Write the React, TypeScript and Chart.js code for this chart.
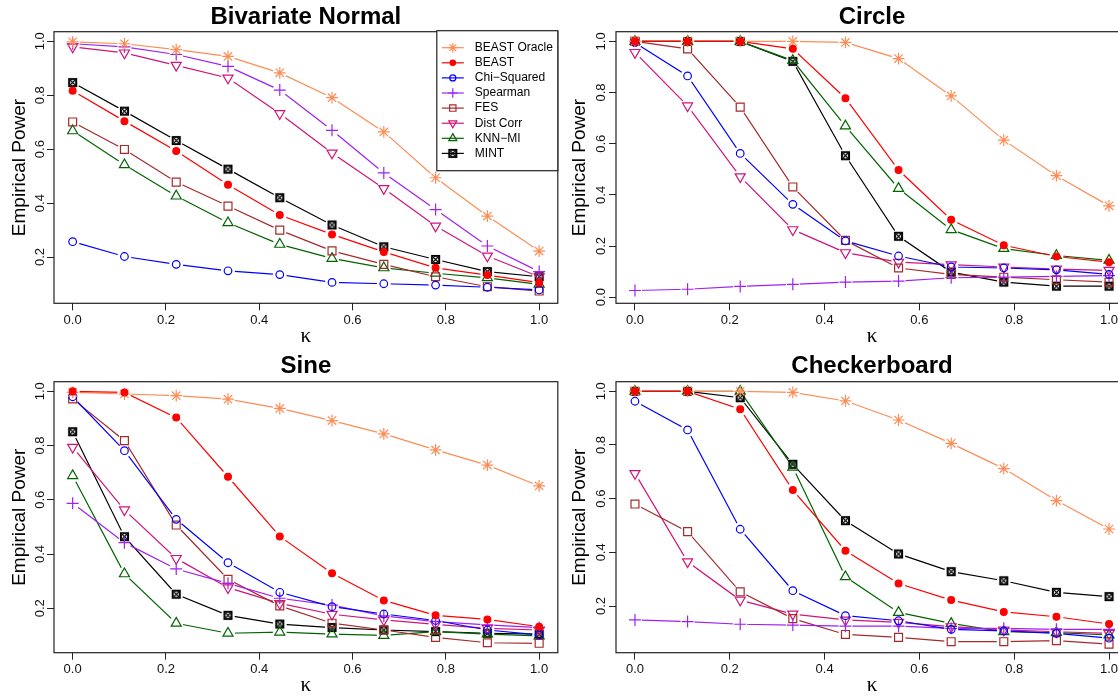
import React, { useEffect, useRef } from "react";
import { Chart, registerables } from "chart.js";

Chart.register(...registerables);

const SANS = "'Liberation Sans', Arial, Helvetica, sans-serif";
const SERIF = "'Liberation Serif', 'DejaVu Serif', serif";
Chart.defaults.font.family = SANS;

// ---------- data ----------
const KAPPA = [0, 0.111, 0.222, 0.333, 0.444, 0.556, 0.667, 0.778, 0.889, 1.0];
const X_TICKS = [0, 0.2, 0.4, 0.6, 0.8, 1.0];
const Y_TICKS_FROM_02 = [0.2, 0.4, 0.6, 0.8, 1.0];
const Y_TICKS_FROM_00 = [0, 0.2, 0.4, 0.6, 0.8, 1.0];

const METHODS = ["BEAST Oracle", "BEAST", "Chi\u2212Squared", "Spearman", "FES", "Dist Corr", "KNN\u2212MI", "MINT"];
const TITLES = ["Bivariate Normal", "Circle", "Sine", "Checkerboard"];

// Bivariate Normal
const BVN_ORACLE = [0.998, 0.991, 0.969, 0.944, 0.883, 0.791, 0.664, 0.494, 0.352, 0.222];
const BVN_BEAST = [0.817, 0.704, 0.593, 0.468, 0.356, 0.284, 0.219, 0.160, 0.133, 0.105];
const BVN_CHISQ = [0.257, 0.202, 0.173, 0.149, 0.135, 0.106, 0.101, 0.096, 0.088, 0.078];
const BVN_SPEARMAN = [0.991, 0.979, 0.951, 0.907, 0.819, 0.670, 0.512, 0.376, 0.241, 0.146];
const BVN_FES = [0.701, 0.599, 0.478, 0.389, 0.300, 0.223, 0.173, 0.127, 0.090, 0.074];
const BVN_DCOR = [0.979, 0.957, 0.911, 0.864, 0.732, 0.586, 0.454, 0.315, 0.204, 0.127];
const BVN_KNN = [0.668, 0.542, 0.426, 0.327, 0.247, 0.195, 0.160, 0.140, 0.123, 0.099];
const BVN_MINT = [0.847, 0.741, 0.632, 0.526, 0.420, 0.319, 0.238, 0.191, 0.146, 0.127];

// Circle
const CIR_ORACLE = [1.0, 1.0, 1.0, 1.0, 0.996, 0.933, 0.787, 0.614, 0.475, 0.357];
const CIR_BEAST = [1.0, 1.0, 1.0, 0.971, 0.778, 0.497, 0.303, 0.203, 0.159, 0.137];
const CIR_CHISQ = [0.995, 0.865, 0.562, 0.363, 0.220, 0.161, 0.118, 0.114, 0.107, 0.089];
const CIR_SPEARMAN = [0.026, 0.031, 0.042, 0.050, 0.059, 0.063, 0.076, 0.078, 0.081, 0.084];
const CIR_FES = [1.0, 0.971, 0.743, 0.431, 0.222, 0.114, 0.089, 0.078, 0.068, 0.059];
const CIR_DCOR = [0.957, 0.748, 0.471, 0.264, 0.174, 0.137, 0.127, 0.118, 0.110, 0.105];
const CIR_KNN = [1.0, 1.0, 1.0, 0.925, 0.669, 0.425, 0.264, 0.190, 0.163, 0.144];
const CIR_MINT = [1.0, 1.0, 1.0, 0.922, 0.553, 0.238, 0.098, 0.059, 0.043, 0.043];

// Sine
const SIN_ORACLE = [0.996, 0.990, 0.984, 0.971, 0.937, 0.892, 0.843, 0.784, 0.728, 0.651];
const SIN_BEAST = [1.0, 0.996, 0.903, 0.685, 0.465, 0.329, 0.229, 0.174, 0.159, 0.132];
const SIN_CHISQ = [0.980, 0.781, 0.528, 0.368, 0.259, 0.206, 0.179, 0.155, 0.120, 0.102];
const SIN_SPEARMAN = [0.587, 0.442, 0.345, 0.292, 0.237, 0.212, 0.172, 0.151, 0.139, 0.129];
const SIN_FES = [0.972, 0.818, 0.507, 0.307, 0.209, 0.145, 0.120, 0.093, 0.073, 0.071];
const SIN_DCOR = [0.794, 0.563, 0.384, 0.276, 0.218, 0.178, 0.157, 0.141, 0.126, 0.120];
const SIN_KNN = [0.689, 0.327, 0.145, 0.108, 0.112, 0.105, 0.100, 0.114, 0.105, 0.098];
const SIN_MINT = [0.851, 0.464, 0.252, 0.174, 0.142, 0.129, 0.120, 0.114, 0.108, 0.105];

// Checkerboard
const CHK_ORACLE = [1.0, 1.0, 1.0, 0.996, 0.964, 0.893, 0.806, 0.712, 0.593, 0.487];
const CHK_BEAST = [1.0, 1.0, 0.933, 0.632, 0.406, 0.284, 0.222, 0.178, 0.160, 0.133];
const CHK_CHISQ = [0.963, 0.856, 0.486, 0.257, 0.164, 0.145, 0.113, 0.107, 0.098, 0.080];
const CHK_SPEARMAN = [0.148, 0.142, 0.132, 0.129, 0.125, 0.125, 0.117, 0.117, 0.113, 0.113];
const CHK_FES = [0.580, 0.477, 0.253, 0.153, 0.094, 0.083, 0.067, 0.067, 0.071, 0.058];
const CHK_DCOR = [0.694, 0.365, 0.222, 0.170, 0.148, 0.139, 0.123, 0.111, 0.104, 0.098];
const CHK_KNN = [1.0, 1.0, 1.0, 0.717, 0.309, 0.176, 0.135, 0.104, 0.101, 0.092];
const CHK_MINT = [1.0, 1.0, 0.976, 0.728, 0.518, 0.394, 0.328, 0.294, 0.251, 0.235];

// ---------- styles ----------
const COLORS = ["#FF8C55", "#FF0000", "#0000FF", "#A020F0", "#A52A2A", "#D0147A", "#006400", "#000000"];
const STYLES = ["star", "circle", "circle", "cross", "rect", "triangle", "triangle", "mint"];
const RADII = [5.9, 3.4, 3.8, 6, 5.6, 5.8, 5.8, 5];
const ROTATIONS = [0, 0, 0, 0, 0, 180, 0, 0];
const FILLED = [false, true, false, false, false, false, false, false];
const ORDERS = [1, 0, 2, 2, 2, 2, 2, 2];
const GAP = 7;

type Panel = {
  title: string;
  series: number[][];
  yMin: number;
  yMax: number;
  yTicks: number[];
  x: number;
  y: number;
  w: number;
  h: number;
  area: { l: number; t: number; r: number; b: number };
  tickPad: number;
  legend: boolean;
};

const PANELS: Panel[] = [
  {
    title: TITLES[0],
    series: [BVN_ORACLE, BVN_BEAST, BVN_CHISQ, BVN_SPEARMAN, BVN_FES, BVN_DCOR, BVN_KNN, BVN_MINT],
    yMin: 0.0285, yMax: 1.0356, yTicks: Y_TICKS_FROM_02,
    x: 0, y: 0, w: 565, h: 349, area: { l: 54, t: 31.7, r: 564, b: 303.3 }, tickPad: -2.05, legend: true,
  },
  {
    title: TITLES[1],
    series: [CIR_ORACLE, CIR_BEAST, CIR_CHISQ, CIR_SPEARMAN, CIR_FES, CIR_DCOR, CIR_KNN, CIR_MINT],
    yMin: -0.024, yMax: 1.038, yTicks: Y_TICKS_FROM_00,
    x: 560, y: 0, w: 580, h: 349, area: { l: 56, t: 31.7, r: 568, b: 303.3 }, tickPad: -1.05, legend: false,
  },
  {
    title: TITLES[2],
    series: [SIN_ORACLE, SIN_BEAST, SIN_CHISQ, SIN_SPEARMAN, SIN_FES, SIN_DCOR, SIN_KNN, SIN_MINT],
    yMin: 0.0363, yMax: 1.0354, yTicks: Y_TICKS_FROM_02,
    x: 0, y: 349, w: 565, h: 349, area: { l: 54, t: 32.7, r: 564, b: 303.7 }, tickPad: -2.05, legend: false,
  },
  {
    title: TITLES[3],
    series: [CHK_ORACLE, CHK_BEAST, CHK_CHISQ, CHK_SPEARMAN, CHK_FES, CHK_DCOR, CHK_KNN, CHK_MINT],
    yMin: 0.026, yMax: 1.0358, yTicks: Y_TICKS_FROM_02,
    x: 560, y: 349, w: 580, h: 349, area: { l: 56, t: 32.7, r: 568, b: 303.7 }, tickPad: -1.05, legend: false,
  },
];

function makeMint(): HTMLCanvasElement {
  const c = document.createElement("canvas");
  c.width = 11;
  c.height = 11;
  const g = c.getContext("2d")!;
  g.strokeStyle = "#000";
  g.lineWidth = 1.1;
  g.strokeRect(1.5, 1.5, 8, 8);
  g.beginPath();
  g.moveTo(1.5, 1.5);
  g.lineTo(9.5, 9.5);
  g.moveTo(9.5, 1.5);
  g.lineTo(1.5, 9.5);
  g.stroke();
  g.beginPath();
  g.arc(5.5, 5.5, 3.2, 0, Math.PI * 2);
  g.stroke();
  return c;
}

function drawSymbol(
  ctx: CanvasRenderingContext2D,
  style: any,
  x: number,
  y: number,
  r: number,
  rot: number,
  color: string,
  filled: boolean
) {
  ctx.save();
  if (typeof style !== "string") {
    ctx.drawImage(style, x - style.width / 2, y - style.height / 2);
    ctx.restore();
    return;
  }
  ctx.strokeStyle = color;
  ctx.fillStyle = color;
  ctx.lineWidth = 1.2;
  ctx.beginPath();
  if (style === "circle") {
    ctx.arc(x, y, r, 0, Math.PI * 2);
    ctx.closePath();
  } else if (style === "rect") {
    const s = r * Math.SQRT1_2;
    ctx.rect(x - s, y - s, 2 * s, 2 * s);
  } else if (style === "triangle") {
    let a = (rot * Math.PI) / 180;
    ctx.moveTo(x + Math.sin(a) * r, y - Math.cos(a) * r);
    for (let k = 0; k < 2; k++) {
      a += (2 * Math.PI) / 3;
      ctx.lineTo(x + Math.sin(a) * r, y - Math.cos(a) * r);
    }
    ctx.closePath();
  } else if (style === "cross" || style === "star") {
    ctx.moveTo(x, y - r);
    ctx.lineTo(x, y + r);
    ctx.moveTo(x - r, y);
    ctx.lineTo(x + r, y);
    if (style === "star") {
      const d = r * Math.SQRT1_2;
      ctx.moveTo(x - d, y - d);
      ctx.lineTo(x + d, y + d);
      ctx.moveTo(x + d, y - d);
      ctx.lineTo(x - d, y + d);
    }
  }
  if (filled) ctx.fill();
  ctx.stroke();
  ctx.restore();
}

const boxPlugin = {
  id: "rbox",
  afterDraw(chart: any) {
    const { ctx, chartArea: a } = chart;
    ctx.save();
    ctx.strokeStyle = "#222";
    ctx.lineWidth = 1.2;
    ctx.strokeRect(a.left, a.top, a.right - a.left, a.bottom - a.top);
    ctx.restore();
  },
};

// R's type="b": the connecting line leaves a small gap around every point
const gapPlugin = {
  id: "rgap",
  beforeDatasetDraw(chart: any, args: any) {
    if (args.index >= METHODS.length) return;
    const ctx = chart.ctx;
    ctx.save();
    ctx.beginPath();
    ctx.rect(0, 0, chart.width, chart.height);
    args.meta.data.forEach((pt: any) => {
      ctx.moveTo(pt.x + GAP, pt.y);
      ctx.arc(pt.x, pt.y, GAP, 0, Math.PI * 2);
    });
    ctx.clip("evenodd");
  },
  afterDatasetDraw(chart: any, args: any) {
    if (args.index >= METHODS.length) return;
    chart.ctx.restore();
  },
};

function makeLegendPlugin(mint: HTMLCanvasElement) {
  return {
    id: "rlegend",
    afterDraw(chart: any) {
      const { ctx, chartArea: a } = chart;
      const w = 121;
      const h = 140;
      const x0 = a.right - w;
      const y0 = a.top - 1;
      ctx.save();
      ctx.fillStyle = "#fff";
      ctx.fillRect(x0, y0, w, h);
      ctx.strokeStyle = "#222";
      ctx.lineWidth = 1.2;
      ctx.strokeRect(x0, y0, w, h);
      METHODS.forEach((m, i) => {
        const yy = y0 + 17 + i * 15.1;
        ctx.strokeStyle = COLORS[i];
        ctx.lineWidth = 1.2;
        ctx.beginPath();
        ctx.moveTo(x0 + 5, yy);
        ctx.lineTo(x0 + 27, yy);
        ctx.stroke();
        const st = STYLES[i] === "mint" ? mint : STYLES[i];
        drawSymbol(ctx, st, x0 + 16, yy, RADII[i] * 0.8, ROTATIONS[i], COLORS[i], FILLED[i]);
        ctx.fillStyle = "#000";
        ctx.font = `12px ${SANS}`;
        ctx.textBaseline = "middle";
        ctx.textAlign = "left";
        ctx.fillText(m, x0 + 38, yy);
      });
      ctx.restore();
    },
  };
}

function PanelChart({ p }: { p: Panel }) {
  const ref = useRef<HTMLCanvasElement>(null);
  useEffect(() => {
    const mint = makeMint();
    const a = p.area;
    const lineSets = METHODS.map((label, i) => ({
      label,
      data: KAPPA.map((x, j) => ({ x, y: p.series[i][j] })),
      borderColor: COLORS[i],
      backgroundColor: COLORS[i],
      borderWidth: 1.2,
      pointRadius: 0,
      tension: 0,
      fill: false,
      order: ORDERS[i] * 2 + 1,
    }));
    const pointSets = METHODS.map((label, i) => ({
      label: label + " points",
      data: KAPPA.map((x, j) => ({ x, y: p.series[i][j] })),
      showLine: false,
      borderColor: COLORS[i],
      backgroundColor: COLORS[i],
      pointStyle: STYLES[i] === "mint" ? mint : STYLES[i],
      pointRadius: RADII[i],
      pointRotation: ROTATIONS[i],
      pointBorderColor: COLORS[i],
      pointBackgroundColor: FILLED[i] ? COLORS[i] : "rgba(0,0,0,0)",
      pointBorderWidth: 1.2,
      fill: false,
      order: ORDERS[i] * 2,
    }));
    const plugins: any[] = [gapPlugin, boxPlugin];
    if (p.legend) plugins.push(makeLegendPlugin(mint));
    const chart = new Chart(ref.current as HTMLCanvasElement, {
      type: "line",
      data: { datasets: [...lineSets, ...pointSets] } as any,
      options: {
        animation: false,
        responsive: false,
        devicePixelRatio: 1,
        layout: { padding: { left: 0, right: p.w - a.r, top: 0, bottom: 0 } },
        plugins: {
          legend: { display: false },
          tooltip: { enabled: false },
          title: {
            display: true,
            text: p.title,
            fullSize: false,
            color: "#000",
            font: { family: SANS, size: 24, weight: "bold", lineHeight: 1.2 },
            padding: { top: 2.6, bottom: a.t - 28.8 - 2.6 },
          },
        },
        scales: {
          x: {
            type: "linear",
            min: -0.04,
            max: 1.04,
            afterBuildTicks: (s: any) => {
              s.ticks = X_TICKS.map((v) => ({ value: v }));
            },
            afterFit: (s: any) => {
              s.height = p.h - a.b;
            },
            ticks: {
              callback: (v: any) => Number(v).toFixed(1),
              color: "#111",
              font: { family: SANS, size: 13 },
              padding: 1.9,
              maxRotation: 0,
              minRotation: 0,
              autoSkip: false,
            },
            grid: { drawOnChartArea: false, tickLength: 7, color: "#222", tickWidth: 1 },
            border: { display: false },
            title: {
              display: true,
              text: "\u03ba",
              color: "#000",
              font: { family: SERIF, size: 21, lineHeight: 1.2 },
              padding: { top: 0, bottom: 0 },
            },
          },
          y: {
            type: "linear",
            min: p.yMin,
            max: p.yMax,
            afterBuildTicks: (s: any) => {
              s.ticks = p.yTicks.map((v) => ({ value: v }));
            },
            afterFit: (s: any) => {
              s.width = a.l;
            },
            ticks: {
              callback: (v: any) => Number(v).toFixed(1),
              color: "#111",
              font: { family: SANS, size: 13 },
              minRotation: 90,
              maxRotation: 90,
              crossAlign: "center",
              padding: p.tickPad,
              autoSkip: false,
            },
            grid: { drawOnChartArea: false, tickLength: 7, color: "#222", tickWidth: 1 },
            border: { display: false },
            title: {
              display: true,
              text: "Empirical Power",
              color: "#000",
              font: { family: SANS, size: 19, lineHeight: 1.2 },
              padding: { top: p.x === 0 ? 8.2 : 8.6, bottom: 0 },
            },
          },
        },
      } as any,
      plugins,
    });
    return () => chart.destroy();
  }, [p]);
  return (
    <canvas
      ref={ref}
      width={p.w}
      height={p.h}
      style={{ position: "absolute", left: p.x, top: p.y, width: p.w, height: p.h }}
    />
  );
}

export default function App() {
  return (
    <div
      style={{
        position: "fixed",
        left: 0,
        top: 0,
        width: 1118,
        height: 698,
        overflow: "hidden",
        background: "#fff",
      }}
    >
      {PANELS.map((p) => (
        <PanelChart key={p.title} p={p} />
      ))}
    </div>
  );
}
